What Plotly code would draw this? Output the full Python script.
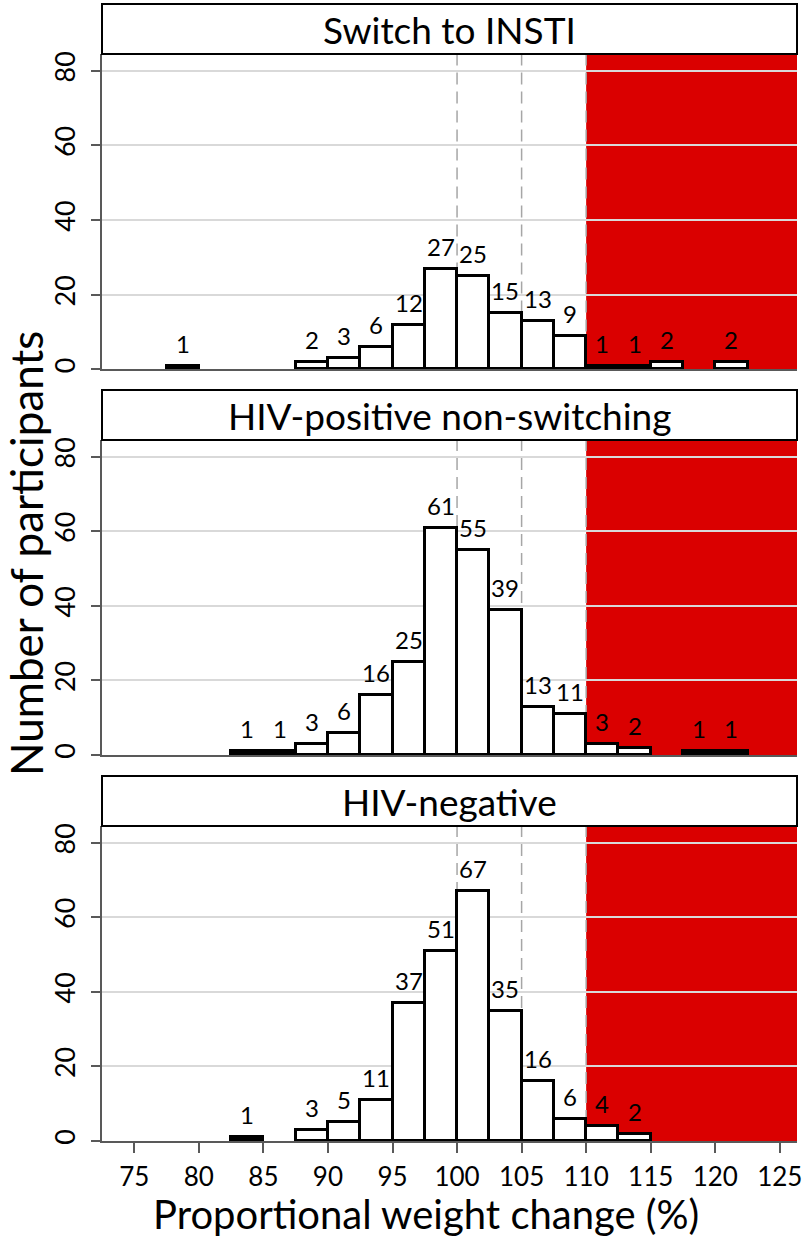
import plotly.graph_objects as go

# ---------------- data ----------------
bin_width = 2.5
panel_titles = ["Switch to INSTI", "HIV-positive non-switching", "HIV-negative"]

switch_left = [77.5, 87.5, 90, 92.5, 95, 97.5, 100, 102.5, 105, 107.5, 110, 112.5, 115, 120]
switch_counts = [1, 2, 3, 6, 12, 27, 25, 15, 13, 9, 1, 1, 2, 2]

nonswitch_left = [82.5, 85, 87.5, 90, 92.5, 95, 97.5, 100, 102.5, 105, 107.5, 110, 112.5, 117.5, 120]
nonswitch_counts = [1, 1, 3, 6, 16, 25, 61, 55, 39, 13, 11, 3, 2, 1, 1]

negative_left = [82.5, 87.5, 90, 92.5, 95, 97.5, 100, 102.5, 105, 107.5, 110, 112.5]
negative_counts = [1, 3, 5, 11, 37, 51, 67, 35, 16, 6, 4, 2]

x_ticks = [75, 80, 85, 90, 95, 100, 105, 110, 115, 120, 125]
y_ticks = [0, 20, 40, 60, 80]
ref_lines = [100, 105, 110]
threshold = 110

x_title = "Proportional weight change (%)"
y_title = "Number of participants"

# ---------------- styling ----------------
FONT = "Lato"
RED = "#DA0000"
X_RANGE = [72.5, 126.33]
Y_RANGE = [0, 84.5]
domains = [[0.7098, 1.0], [0.3551, 0.6449], [0.0, 0.2898]]
header_h = 50 / 315.5

panels = [
    (switch_left, switch_counts),
    (nonswitch_left, nonswitch_counts),
    (negative_left, negative_counts),
]

fig = go.Figure()
shapes = []
annotations = []

for i, (lefts, counts) in enumerate(panels):
    n = i + 1
    xa = "x" if n == 1 else f"x{n}"
    ya = "y" if n == 1 else f"y{n}"
    centers = [l + bin_width / 2 for l in lefts]
    # very short bars render as solid black (outline fills them)
    fills = ["black" if v <= 1 else "white" for v in counts]
    fig.add_trace(go.Bar(
        x=centers, y=counts, width=bin_width,
        marker=dict(color=fills, line=dict(color="black", width=3)),
        xaxis=xa, yaxis=ya, showlegend=False, hoverinfo="x+y",
    ))
    # bar value labels
    for c, v in zip(centers, counts):
        annotations.append(dict(
            x=c, y=v, xref=xa, yref=ya, text=str(v), showarrow=False,
            yanchor="bottom", xanchor="center", yshift=6,
            font=dict(family=FONT, size=24, color="black"),
        ))
    # red region
    shapes.append(dict(
        type="rect", xref=xa, yref=f"{ya} domain", x0=threshold, x1=X_RANGE[1],
        y0=0, y1=1, fillcolor=RED, line=dict(width=0), layer="below",
    ))
    # dashed reference lines
    for rl in ref_lines:
        shapes.append(dict(
            type="line", xref=xa, yref=f"{ya} domain", x0=rl, x1=rl, y0=0, y1=1,
            line=dict(color="#A6A6A6", width=1.5, dash="12px,7px"), layer="below",
        ))
    # header strip
    shapes.append(dict(
        type="rect", xref=f"{xa} domain", yref=f"{ya} domain", x0=0, x1=1,
        y0=1, y1=1 + header_h, fillcolor="white",
        line=dict(color="black", width=2), layer="above",
    ))
    annotations.append(dict(
        x=0.5, y=1 + header_h / 2, xref=f"{xa} domain", yref=f"{ya} domain",
        text=panel_titles[i], showarrow=False, xanchor="center", yanchor="middle",
        font=dict(family=FONT, size=37, color="black"),
    ))

axis_common_x = dict(
    range=X_RANGE, showgrid=False, zeroline=False, showline=True,
    linecolor="#595959", linewidth=1.5, tickvals=x_ticks, fixedrange=True,
)
axis_common_y = dict(
    range=Y_RANGE, tickvals=y_ticks, showgrid=True, gridcolor="#D9D9D9", gridwidth=2,
    zeroline=False, showline=True, linecolor="#595959", linewidth=1.5,
    ticks="outside", ticklen=9, tickcolor="#595959", tickwidth=1.5, tickangle=-90,
    ticklabelstandoff=5, fixedrange=True,
    tickfont=dict(family=FONT, size=27, color="black"),
)

layout = dict(
    width=807, height=1239,
    margin=dict(l=102, r=5, t=54, b=98),
    paper_bgcolor="white", plot_bgcolor="white",
    bargap=0, showlegend=False,
    shapes=shapes,
)
for i in range(3):
    n = i + 1
    xk = "xaxis" if n == 1 else f"xaxis{n}"
    yk = "yaxis" if n == 1 else f"yaxis{n}"
    ya = "y" if n == 1 else f"y{n}"
    xa = "x" if n == 1 else f"x{n}"
    xd = dict(axis_common_x, anchor=ya)
    if n == 3:
        xd.update(ticks="outside", ticklen=10, tickcolor="#595959", tickwidth=1.5,
                  showticklabels=True, ticklabeloverflow="allow", ticklabelstandoff=2,
                  tickfont=dict(family=FONT, size=26, color="black"))
    else:
        xd.update(ticks="", showticklabels=False, matches="x3")
    layout[xk] = xd
    layout[yk] = dict(axis_common_y, domain=domains[i], anchor=xa)

annotations.append(dict(
    x=0, y=0.54, xref="paper", yref="paper", xshift=-76, text=y_title,
    textangle=-90, showarrow=False, xanchor="center", yanchor="middle",
    font=dict(family=FONT, size=44, color="black"),
))
annotations.append(dict(
    x=0.4656, y=0, xref="paper", yref="paper", yshift=-73, text=x_title,
    showarrow=False, xanchor="center", yanchor="middle",
    font=dict(family=FONT, size=40, color="black"),
))
layout["annotations"] = annotations

fig.update_layout(**layout)
fig.write_html("out.html", config={"displayModeBar": False},
               post_script="document.body.style.margin='0';")
